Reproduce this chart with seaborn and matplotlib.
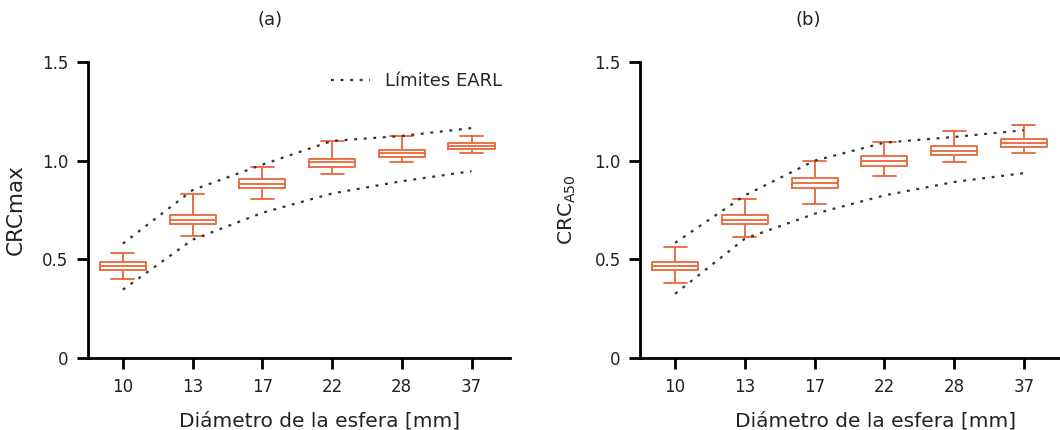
import numpy as np
import pandas as pd
import matplotlib
matplotlib.use("Agg")
import matplotlib.pyplot as plt
import seaborn as sns

diametros = ["10", "13", "17", "22", "28", "37"]

# five-number summaries: min, q1, median, q3, max
crc_max = [
    [0.401, 0.447, 0.466, 0.485, 0.533],
    [0.617, 0.680, 0.702, 0.724, 0.829],
    [0.805, 0.861, 0.883, 0.905, 0.967],
    [0.932, 0.969, 0.991, 1.011, 1.098],
    [0.993, 1.020, 1.038, 1.055, 1.123],
    [1.040, 1.060, 1.074, 1.087, 1.125],
]
crc_a50 = [
    [0.382, 0.448, 0.466, 0.486, 0.561],
    [0.615, 0.679, 0.701, 0.723, 0.804],
    [0.782, 0.861, 0.887, 0.910, 1.000],
    [0.924, 0.971, 0.997, 1.022, 1.095],
    [0.992, 1.027, 1.051, 1.073, 1.149],
    [1.039, 1.069, 1.090, 1.108, 1.182],
]

earl_sup_a = [0.580, 0.851, 0.980, 1.100, 1.125, 1.165]
earl_inf_a = [0.347, 0.600, 0.736, 0.834, 0.896, 0.947]
earl_sup_b = [0.584, 0.824, 1.000, 1.091, 1.120, 1.154]
earl_inf_b = [0.326, 0.605, 0.731, 0.824, 0.892, 0.937]

NARANJA = "#E8673A"

sns.set_style("white")
plt.rcParams["font.family"] = ["DejaVu Sans"]


def to_long(vals):
    rows = []
    for d, v in zip(diametros, vals):
        for x in v:
            rows.append({"diametro": d, "crc": x})
    return pd.DataFrame(rows)


def panel(ax, vals, sup, inf, ylabel, xlab_pos, ylab_size, legend=False):
    df = to_long(vals)
    sns.boxplot(data=df, x="diametro", y="crc", order=diametros, ax=ax,
                whis=(0, 100), width=0.66, fill=False, color=NARANJA,
                linewidth=1.3, showfliers=False)
    sns.lineplot(x=np.arange(len(diametros)), y=sup, ax=ax, color="#333333",
                 linestyle=(0, (1.3, 3)), linewidth=1.6,
                 label="Límites EARL" if legend else None)
    sns.lineplot(x=np.arange(len(diametros)), y=inf, ax=ax, color="#333333",
                 linestyle=(0, (1.3, 3)), linewidth=1.6)
    ax.set_xlim(-0.5, 5.55)
    ax.set_ylim(0, 1.5)
    ax.set_yticks([0, 0.5, 1.0, 1.5])
    ax.set_yticklabels(["0", "0.5", "1.0", "1.5"])
    ax.set_ylabel(ylabel, fontsize=ylab_size, labelpad=12, color="#222222")
    ax.set_xlabel("Diámetro de la esfera [mm]", fontsize=14.5, labelpad=11,
                  color="#222222")
    ax.xaxis.set_label_coords(xlab_pos, -0.18)
    for s in ["top", "right"]:
        ax.spines[s].set_visible(False)
    for s in ["left", "bottom"]:
        ax.spines[s].set_linewidth(2)
        ax.spines[s].set_color("black")
    ax.tick_params(axis="both", direction="out", length=8, width=2,
                   labelsize=12, color="black", labelcolor="#222222", pad=6,
                   left=True, bottom=True)
    if legend:
        ax.legend(loc="upper right", frameon=False, fontsize=13,
                  handlelength=2.2, bbox_to_anchor=(1.02, 1.02))
    elif ax.get_legend() is not None:
        ax.get_legend().remove()


fig = plt.figure(figsize=(10.6, 4.3), dpi=100)
ax1 = fig.add_axes([0.083, 0.167, 0.398, 0.689])
ax2 = fig.add_axes([0.604, 0.167, 0.398, 0.689])

panel(ax1, crc_max, earl_sup_a, earl_inf_a, "CRCmax", 0.55, 15.5, legend=True)
panel(ax2, crc_a50, earl_sup_b, earl_inf_b, r"CRC$_{\mathregular{A50}}$", 0.558, 14.5)

fig.text(270 / 1060, 1 - 20 / 430, "(a)", ha="center", va="center",
         fontsize=13, color="#222222")
fig.text(808 / 1060, 1 - 20 / 430, "(b)", ha="center", va="center",
         fontsize=13, color="#222222")

fig.savefig("out.png", dpi=100)
